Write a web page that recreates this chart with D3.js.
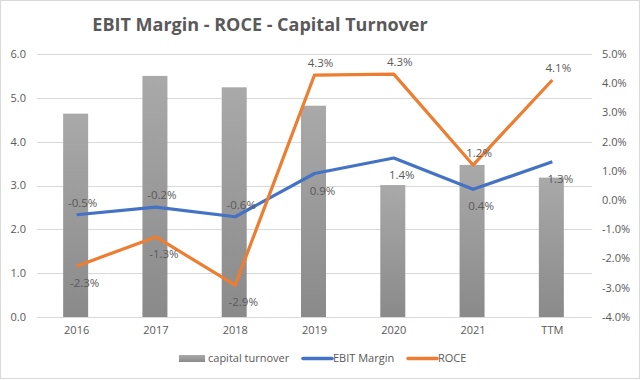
<!DOCTYPE html>
<html>
<head>
<meta charset="utf-8">
<script src="https://cdn.jsdelivr.net/npm/d3@7"></script>
<style>
  body { margin: 0; background: #fff; }
  svg { font-family: "Open Sans", sans-serif; }
</style>
</head>
<body>
<svg id="chart"></svg>
<script>
var categories = ['2016', '2017', '2018', '2019', '2020', '2021', 'TTM'];
var capitalTurnover = [4.64, 5.5, 5.24, 4.82, 3.01, 3.47, 3.18];
var ebitMargin = [-0.5, -0.24, -0.57, 0.91, 1.44, 0.37, 1.31];
var roce = [-2.26, -1.26, -2.91, 4.28, 4.31, 1.2, 4.11];
var leftTicks = [0, 1, 2, 3, 4, 5, 6];
var rightTicks = [-4, -3, -2, -1, 0, 1, 2, 3, 4, 5];

// label placement per point: 1 = above, -1 = below
var ebitLabelSide = [1, 1, 1, -1, -1, -1, -1];
var roceLabelSide = [-1, -1, -1, 1, 1, 1, 1];

var w = 640, h = 380;
var margin = {top: 54, right: 48, bottom: 63, left: 37};

var svg = d3.select('#chart')
  .attr('width', w)
  .attr('height', h);

// outer border
svg.append('rect')
  .attr('x', 0.5).attr('y', 0.5)
  .attr('width', w - 1).attr('height', h - 2)
  .attr('fill', '#fff')
  .attr('stroke', '#d9d9d9');

var x = d3.scaleBand()
  .domain(categories)
  .range([margin.left, w - margin.right]);

var yL = d3.scaleLinear()
  .domain([0, 6])
  .range([h - margin.bottom, margin.top]);

var yR = d3.scaleLinear()
  .domain([-4, 5])
  .range([h - margin.bottom, margin.top]);

// gradient for bars
var defs = svg.append('defs');
var grad = defs.append('linearGradient')
  .attr('id', 'barGrad')
  .attr('x1', 0).attr('y1', 0).attr('x2', 0).attr('y2', 1);
grad.append('stop').attr('offset', '0%').attr('stop-color', '#a9a9a9');
grad.append('stop').attr('offset', '100%').attr('stop-color', '#8a8a8a');

// gridlines
svg.append('g')
  .selectAll('line')
  .data(leftTicks)
  .enter()
  .append('line')
  .attr('x1', margin.left)
  .attr('x2', w - margin.right)
  .attr('y1', function(d){return Math.round(yL(d)) + 0.5;})
  .attr('y2', function(d){return Math.round(yL(d)) + 0.5;})
  .attr('stroke', '#d9d9d9')
  .attr('stroke-width', 1);

// left axis labels
svg.append('g')
  .selectAll('text')
  .data(leftTicks)
  .enter()
  .append('text')
  .attr('x', 26)
  .attr('y', function(d){return yL(d);})
  .attr('dy', '0.35em')
  .attr('text-anchor', 'end')
  .attr('font-size', 11)
  .attr('fill', '#595959')
  .text(function(d){return d.toFixed(1);});

// right axis labels
svg.append('g')
  .selectAll('text')
  .data(rightTicks)
  .enter()
  .append('text')
  .attr('x', 602)
  .attr('y', function(d){return yR(d);})
  .attr('dy', '0.35em')
  .attr('text-anchor', 'start')
  .attr('font-size', 11)
  .attr('fill', '#595959')
  .text(function(d){return d.toFixed(1) + '%';});

// x labels
svg.append('g')
  .selectAll('text')
  .data(categories)
  .enter()
  .append('text')
  .attr('x', function(d){return x(d) + x.bandwidth() / 2;})
  .attr('y', h - margin.bottom + 17)
  .attr('text-anchor', 'middle')
  .attr('font-size', 11)
  .attr('fill', '#595959')
  .text(function(d){return d;});

// bars
var barW = 25;
svg.append('g')
  .selectAll('rect')
  .data(capitalTurnover)
  .enter()
  .append('rect')
  .attr('x', function(d, i){return x(categories[i]) + x.bandwidth() / 2 - barW / 2 - 1;})
  .attr('y', function(d){return yL(d);})
  .attr('width', barW)
  .attr('height', function(d){return yL(0) - yL(d);})
  .attr('fill', 'url(#barGrad)');

// lines
var line = d3.line()
  .x(function(d, i){return x(categories[i]) + x.bandwidth() / 2;})
  .y(function(d){return yR(d);});

function drawSeries(values, color, sides) {
  svg.append('path')
    .datum(values)
    .attr('d', line)
    .attr('fill', 'none')
    .attr('stroke', color)
    .attr('stroke-width', 3.2)
    .attr('stroke-linejoin', 'round');

  svg.append('g')
    .selectAll('text')
    .data(values)
    .enter()
    .append('text')
    .attr('x', function(d, i){return x(categories[i]) + x.bandwidth() / 2 + (sides[i] > 0 ? 6 : 8);})
    .attr('y', function(d, i){return yR(d) + (sides[i] > 0 ? -8 : 21);})
    .attr('text-anchor', 'middle')
    .attr('font-size', 11.5)
    .attr('fill', '#595959')
    .text(function(d){return d.toFixed(1) + '%';});
}

drawSeries(ebitMargin, '#4472c4', ebitLabelSide);
drawSeries(roce, '#ed7d31', roceLabelSide);

// title
svg.append('text')
  .attr('x', w / 2 - 60)
  .attr('y', 31)
  .attr('text-anchor', 'middle')
  .attr('font-size', 18)
  .attr('font-weight', 'bold')
  .attr('fill', '#595959')
  .text('EBIT Margin - ROCE - Capital Turnover');

// legend
var legend = svg.append('g').attr('font-size', 11).attr('fill', '#595959');
legend.append('rect')
  .attr('x', 179).attr('y', 355).attr('width', 26).attr('height', 7)
  .attr('fill', 'url(#barGrad)');
legend.append('text').attr('x', 208).attr('y', 362).text('capital turnover');
legend.append('line')
  .attr('x1', 303).attr('x2', 332).attr('y1', 358.5).attr('y2', 358.5)
  .attr('stroke', '#4472c4').attr('stroke-width', 3.5).attr('stroke-linecap', 'round');
legend.append('text').attr('x', 333).attr('y', 362).text('EBIT Margin');
legend.append('line')
  .attr('x1', 408).attr('x2', 437).attr('y1', 358.5).attr('y2', 358.5)
  .attr('stroke', '#ed7d31').attr('stroke-width', 3.5).attr('stroke-linecap', 'round');
legend.append('text').attr('x', 438).attr('y', 362).text('ROCE');
</script>
</body>
</html>
